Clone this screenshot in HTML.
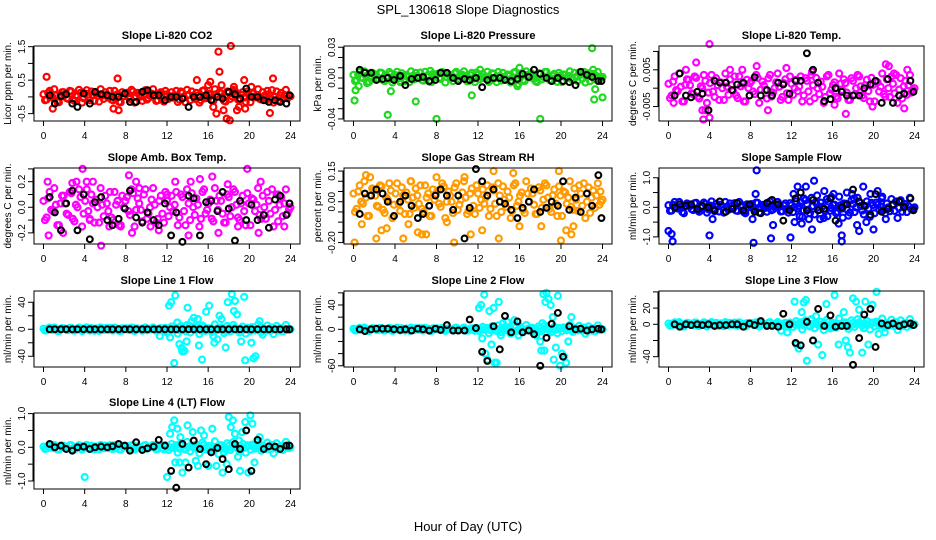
<!DOCTYPE html>
<html><head><meta charset="utf-8"><style>
html,body{margin:0;padding:0;background:#fff;}
svg{display:block;font-family:"Liberation Sans",sans-serif;}
</style></head><body>
<svg id="fig" width="936" height="540" viewBox="0 0 936 540" xmlns="http://www.w3.org/2000/svg">
<rect width="936" height="540" fill="#fff"/>
<text x="468" y="14" text-anchor="middle" font-size="13">SPL_130618  Slope Diagnostics</text>
<text x="468" y="531" text-anchor="middle" font-size="13">Hour of Day (UTC)</text>
</svg>
<script>
const coreHours=[0,0.3,0.6,0.9,1.2,1.5,1.8,2.1,2.4,2.7,3.0,3.3,3.6,3.9,4.2,4.5,4.8,5.1,5.4,5.7,6.0,6.3,6.6,6.9,7.2,7.5,7.8,8.1,8.4,8.7,9.0,9.3,9.6,9.9,10.2,10.5,10.8,11.1,11.4,11.7,12.0,12.3,12.6,12.9,13.2,13.5,13.8,14.1,14.4,14.7,15.0,15.3,15.6,15.9,16.2,16.5,16.8,17.1,17.4,17.7,18.0,18.3,18.6,18.9,19.2,19.5,19.8,20.1,20.4,20.7,21.0,21.3,21.6,21.9,22.2,22.5,22.8,23.1,23.4,23.7,24.0];
const coreHours2=[0.15,0.45,0.75,1.05,1.35,1.65,1.95,2.25,2.55,2.85,3.15,3.45,3.75,4.05,4.35,4.65,4.95,5.25,5.55,5.85,6.15,6.45,6.75,7.05,7.35,7.65,7.95,8.25,8.55,8.85,9.15,9.45,9.75,10.05,10.35,10.65,10.95,11.25,11.55,11.85,12.15,12.45,12.75,13.05,13.35,13.65,13.95,14.25,14.55,14.85,15.15,15.45,15.75,16.05,16.35,16.65,16.95,17.25,17.55,17.85,18.15,18.45,18.75,19.05,19.35,19.65,19.95,20.25,20.55,20.85,21.15,21.45,21.75,22.05,22.35,22.65,22.95,23.25,23.55,23.85];
const blackHours=[0.6,1.1,1.7,2.2,2.8,3.3,3.9,4.5,5.0,5.6,6.2,6.7,7.3,7.9,8.4,9.0,9.6,10.1,10.7,11.2,11.8,12.4,12.9,13.5,14.1,14.6,15.2,15.8,16.3,16.9,17.4,18.0,18.6,19.1,19.7,20.2,20.8,21.4,21.9,22.5,23.0,23.6,23.9];
const xTicks=[0,4,8,12,16,20,24];

const co2Core=[0.08,-0.08,0.18,-0.02,0.04,-0.16,0.14,0.06,-0.06,0.16,-0.12,0.02,0.12,-0.04,0.2,-0.1,0.06,0.1,-0.14,0.04,0.14,-0.02,-0.08,0.18,0.08,-0.16,0.02,0.12,-0.06,0.16,0,0.06,-0.12,0.2,-0.04,0.1,0.04,-0.1,0.14,-0.14,0.08,0.02,-0.02,0.18,-0.08,0.12,-0.16,0.06,0.16,-0.06,0.04,-0.1,0.2,0,0.1,-0.12,0.08,0.14,-0.04,-0.14,0.12,0.02,0.18,-0.08,0.06,-0.02,0.16,-0.16,0.1,0.04,-0.06,0.14,-0.1,0.08,0.2,0,-0.12,0.12,0.06,-0.04,0.02];
const co2Core2=[-0.10,0.12,0.01,0.23,-0.15,0.07,0.14,-0.04,0.18,-0.08,0.05,0.21,-0.17,0.10,-0.01,0.16,-0.12,0.03,0.23,-0.06,0.07,0.18,-0.10,0.05,-0.15,0.14,0.10,-0.01,0.21,-0.17,0.12,0.01,0.16,-0.08,0.03,0.23,-0.12,0.10,-0.04,0.18,-0.06,0.14,0.05,-0.15,0.16,-0.01,0.21,-0.10,0.03,0.12,-0.17,0.18,-0.04,0.07,-0.08,0.23,0.01,0.10,-0.12,0.16,-0.06,0.21,0.05,-0.10,0.14,-0.15,0.07,0.12,-0.01,0.23,-0.08,0.03,0.18,-0.04,-0.17,0.16,0.05,-0.06,0.21,0.01];
const co2Outliers=[[0.3,0.6],[0.9,-0.35],[7.2,0.55],[7.3,-0.4],[6.8,-0.35],[16.8,-0.5],[17,1.35],[17.1,0.75],[18.2,1.52],[17.8,-0.65],[18.1,-0.7],[22,-0.48],[22.3,0.55],[14.9,0.5],[19.5,0.5],[16.2,0.45],[16.5,-0.3],[17.3,0.35],[17.5,-0.4],[18.5,0.3],[19.0,-0.3],[19.6,-0.35],[20.2,0.3],[16.0,0.35],[18.8,-0.4]];
const co2Black=[0.05,-0.2,0.02,0.08,-0.2,-0.3,0.1,-0.2,0.15,0.08,0.05,0,0,0.1,-0.15,-0.15,0.15,0.2,0.05,0.05,-0.1,0,0,-0.05,-0.3,0,0,0.05,-0.1,0,-0.05,0.15,0.08,-0.05,0.25,0,0,-0.1,-0.15,-0.1,-0.15,-0.2,0.05];

const presCore=[0.003,-0.002,0.006,0,0.002,-0.004,0.005,0.002,-0.001,0.005,-0.003,0.001,0.004,-0.001,0.006,-0.003,0.002,0.003,-0.004,0.002,0.005,0,-0.002,0.006,0.003,-0.004,0.001,0.004,-0.001,0.005,0.001,0.002,-0.003,0.006,-0.001,0.003,0.002,-0.003,0.005,-0.004,0.003,0.001,0,0.006,-0.002,0.004,-0.004,0.002,0.005,-0.001,0.002,-0.003,0.006,0,0.003,-0.003,0.003,0.005,-0.001,-0.004,0.004,0.001,0.006,-0.002,0.002,0,0.005,-0.004,0.003,0.002,-0.001,0.005,-0.003,0.003,0.006,0.001,-0.003,0.004,0.002,-0.001,0.001];
const presCore2=[-0.003,0.003,0.0004,0.0064,-0.0038,0.0022,0.004,-0.0008,0.0052,-0.002,0.0016,0.0058,-0.0044,0.0028,-0.0002,0.0046,-0.0032,0.001,0.0064,-0.0014,0.0022,0.0052,-0.0026,0.0016,-0.0038,0.004,0.0028,-0.0002,0.0058,-0.0044,0.0034,0.0004,0.0046,-0.002,0.001,0.0064,-0.0032,0.0028,-0.0008,0.0052,-0.0014,0.004,0.0016,-0.0038,0.0046,-0.0002,0.0058,-0.0026,0.001,0.0034,-0.0044,0.0052,-0.0008,0.0022,-0.002,0.0064,0.0004,0.0028,-0.0032,0.0046,-0.0014,0.0058,0.0016,-0.0026,0.004,-0.0038,0.0022,0.0034,-0.0002,0.0064,-0.002,0.001,0.0052,-0.0008,-0.0044,0.0046,0.0016,-0.0014,0.0058,0.0004];
const presOutliers=[[0.1,-0.022],[0.2,-0.012],[0.5,-0.008],[1.3,-0.005],[3.3,-0.036],[3.6,-0.013],[4.5,-0.004],[6.0,-0.023],[8.0,-0.04],[11.4,-0.017],[12.2,0.008],[15.8,-0.008],[16,0.01],[18,-0.04],[23,0.029],[23.2,-0.021],[23.3,-0.011],[24,-0.019],[23.1,0.008],[7.4,0.007],[15.9,-0.006]];
const presBlack=[0.008,0.005,0.005,-0.002,-0.001,0,-0.002,0.002,-0.007,-0.001,0,0.001,-0.003,-0.002,0.005,0.005,0,-0.003,-0.001,-0.002,0,-0.009,-0.002,0,0,-0.002,-0.003,-0.001,0.004,0.001,0.008,0.004,0,-0.003,0,-0.003,-0.004,-0.007,0.006,0.003,0.001,-0.003,-0.003];

const liTempCore=[0.0012,-0.002,0.0032,-0.0008,0.0004,-0.0036,0.0024,0.0008,-0.0016,0.0028,-0.0028,0,0.002,-0.0012,0.0036,-0.0024,0.0008,0.0016,-0.0032,0.0004,0.0024,-0.0008,-0.002,0.0032,0.0012,-0.0036,0,0.002,-0.0016,0.0028,-0.0004,0.0008,-0.0028,0.0036,-0.0012,0.0016,0.0004,-0.0024,0.0024,-0.0032,0.0012,0,-0.0008,0.0032,-0.002,0.002,-0.0036,0.0008,0.0028,-0.0016,0.0004,-0.0024,0.0036,-0.0004,0.0016,-0.0028,0.0012,0.0024,-0.0012,-0.0032,0.002,0,0.0032,-0.002,0.0008,-0.0008,0.0028,-0.0036,0.0016,0.0004,-0.0016,0.0024,-0.0024,0.0012,0.0036,-0.0004,-0.0028,0.002,0.0008,-0.0012,0];
const liTempCore2=[-0.0027,0.0018,-0.0005,0.004,-0.0036,0.0009,0.0023,-0.0014,0.0032,-0.0023,0.0005,0.0036,-0.004,0.0014,-0.0009,0.0027,-0.0032,0,0.004,-0.0018,0.0009,0.0032,-0.0027,0.0005,-0.0036,0.0023,0.0014,-0.0009,0.0036,-0.004,0.0018,-0.0005,0.0027,-0.0023,0,0.004,-0.0032,0.0014,-0.0014,0.0032,-0.0018,0.0023,0.0005,-0.0036,0.0027,-0.0009,0.0036,-0.0027,0,0.0018,-0.004,0.0032,-0.0014,0.0009,-0.0023,0.004,-0.0005,0.0014,-0.0032,0.0027,-0.0018,0.0036,0.0005,-0.0027,0.0023,-0.0036,0.0009,0.0018,-0.0009,0.004,-0.0023,0,0.0032,-0.0014,-0.004,0.0027,0.0005,-0.0018,0.0036,-0.0005];
const liTempOutliers=[[0.5,-0.004],[1.7,0.005],[2.7,0.007],[3.3,-0.006],[3.4,-0.0085],[3.6,-0.006],[4.0,0.012],[4.0,-0.008],[6.0,0.005],[7.2,0.005],[8.6,0.006],[9.7,-0.006],[11.5,0.0055],[17.3,-0.007],[14,0.0045],[19.9,-0.005],[21.2,0.0065],[21.5,0.006],[23.0,-0.0055],[23.3,0.005],[22.0,0.004],[16.2,-0.0045]];
const liTempBlack=[-0.002,0.004,-0.002,-0.0025,-0.001,-0.0015,-0.006,0.002,0.0015,0.0015,-0.0005,0.001,0.0015,-0.002,0.003,-0.002,-0.0005,-0.002,0.0015,0.001,-0.0015,0.002,0.002,0.0095,0.005,0.0015,-0.0035,-0.003,0,-0.001,-0.002,-0.002,-0.002,0,0.001,0.002,-0.004,0.0025,-0.004,-0.002,-0.0015,0.002,-0.001];

const ambCore=[0.05,-0.08,0.12,-0.03,0.02,-0.14,0.09,0.03,-0.06,0.11,-0.11,0,0.08,-0.05,0.14,-0.09,0.03,0.06,-0.12,0.02,0.09,-0.03,-0.08,0.12,0.05,-0.14,0,0.08,-0.06,0.11,-0.02,0.03,-0.11,0.14,-0.05,0.06,0.02,-0.09,0.09,-0.12,0.05,0,-0.03,0.12,-0.08,0.08,-0.14,0.03,0.11,-0.06,0.02,-0.09,0.14,-0.02,0.06,-0.11,0.05,0.09,-0.05,-0.12,0.08,0,0.12,-0.08,0.03,-0.03,0.11,-0.14,0.06,0.02,-0.06,0.09,-0.09,0.05,0.14,-0.02,-0.11,0.08,0.03,-0.05,0];
const ambCore2=[-0.1,0.07,-0.02,0.15,-0.14,0.03,0.09,-0.05,0.12,-0.09,0.02,0.14,-0.15,0.05,-0.03,0.1,-0.12,0,0.15,-0.07,0.03,0.12,-0.1,0.02,-0.14,0.09,0.05,-0.03,0.14,-0.15,0.07,-0.02,0.1,-0.09,0,0.15,-0.12,0.05,-0.05,0.12,-0.07,0.09,0.02,-0.14,0.1,-0.03,0.14,-0.1,0,0.07,-0.15,0.12,-0.05,0.03,-0.09,0.15,-0.02,0.05,-0.12,0.1,-0.07,0.14,0.02,-0.1,0.09,-0.14,0.03,0.07,-0.03,0.15,-0.09,0,0.12,-0.05,-0.15,0.1,0.02,-0.07,0.14,-0.02];
const ambOutliers=[[0.4,0.2],[1.9,-0.2],[2.8,0.19],[3.2,0.2],[3.8,0.3],[4.2,0.2],[4.5,-0.1],[4.8,0.2],[5.6,-0.3],[6.4,-0.15],[8.3,0.25],[8.6,-0.2],[9.0,0.2],[9.3,0.15],[10.4,-0.15],[12.8,0.2],[14.1,-0.22],[14.3,0.2],[15.2,0.22],[16.4,0.24],[17.9,0.18],[19.8,0.3],[21.1,0.2],[22.8,0.1],[23.4,-0.15],[0.5,-0.22],[7.5,-0.15],[11.2,-0.18],[17.0,-0.2],[20.9,-0.2],[12.0,0.1],[18.9,-0.15]];
const ambBlack=[0.08,-0.04,-0.18,0.03,0.13,-0.18,0.1,-0.25,0.04,0.08,-0.1,-0.14,-0.09,-0.01,0.13,-0.08,-0.12,-0.04,-0.1,-0.14,0.03,-0.22,-0.04,-0.27,0.09,0.07,-0.22,0.04,0.05,-0.03,0.12,-0.01,-0.26,0.05,-0.1,0.02,-0.1,-0.06,-0.16,0.06,0.09,-0.06,0.03];

const rhCore=[0.04,-0.035,0.08,-0.01,0.02,-0.07,0.065,0.03,-0.025,0.075,-0.055,0.01,0.055,-0.015,0.09,-0.045,0.03,0.045,-0.06,0.02,0.065,-0.01,-0.035,0.08,0.04,-0.07,0.01,0.055,-0.025,0.075,0,0.03,-0.055,0.09,-0.015,0.045,0.02,-0.045,0.065,-0.06,0.04,0.01,-0.01,0.08,-0.035,0.055,-0.07,0.03,0.075,-0.025,0.02,-0.045,0.09,0,0.045,-0.055,0.04,0.065,-0.015,-0.06,0.055,0.01,0.08,-0.035,0.03,-0.01,0.075,-0.07,0.045,0.02,-0.025,0.065,-0.045,0.04,0.09,0,-0.055,0.055,0.03,-0.015,0.01];
const rhCore2=[-0.05,0.05,0,0.1,-0.07,0.03,0.06,-0.02,0.08,-0.04,0.02,0.09,-0.08,0.04,-0.01,0.07,-0.06,0.01,0.1,-0.03,0.03,0.08,-0.05,0.02,-0.07,0.06,0.04,-0.01,0.09,-0.08,0.05,0,0.07,-0.04,0.01,0.1,-0.06,0.04,-0.02,0.08,-0.03,0.06,0.02,-0.07,0.07,-0.01,0.09,-0.05,0.01,0.05,-0.08,0.08,-0.02,0.03,-0.04,0.1,0,0.04,-0.06,0.07,-0.03,0.09,0.02,-0.05,0.06,-0.07,0.03,0.05,-0.01,0.1,-0.04,0.01,0.08,-0.02,-0.08,0.07,0.02,-0.03,0.09,0];
const rhOutliers=[[0.1,-0.2],[0.8,-0.11],[1.2,0.13],[1.6,0.12],[2.2,-0.18],[2.7,-0.14],[3.2,-0.13],[4.8,-0.18],[5.3,-0.11],[6.2,-0.15],[6.6,-0.16],[7.0,-0.16],[8.0,0.12],[9.7,-0.2],[9.0,-0.1],[10.7,0.12],[11.3,-0.16],[12.4,-0.14],[13.5,0.15],[14.0,-0.18],[15.4,0.14],[16.0,-0.12],[18.1,-0.12],[19.8,0.15],[20.0,-0.19],[20.5,-0.14],[21.0,-0.16],[21.2,-0.12],[23.8,0.05],[5.5,0.1]];
const rhBlack=[-0.06,0.04,0.03,0.06,0.04,0.0,-0.07,0.0,0.03,-0.02,-0.08,-0.06,-0.02,0.03,0.06,0.03,-0.04,0.03,-0.18,-0.03,0.16,0.1,0.03,0.06,0.0,-0.01,-0.04,-0.08,-0.03,0.0,0.06,-0.05,-0.03,0.0,-0.02,0.1,-0.04,0.02,-0.05,0.04,-0.02,0.13,-0.08];

const sampCore=[0.07,-0.11,0.18,-0.04,0.02,-0.2,0.13,0.04,-0.09,0.15,-0.15,0,0.11,-0.07,0.2,-0.13,0.04,0.09,-0.18,0.02,0.13,-0.04,-0.11,0.18,0.07,-0.2,0,0.11,-0.09,0.15,-0.02,0.04,-0.15,0.2,-0.07,0.09,0.02,-0.13,0.13,-0.18,0.07,0,-0.04,0.18,-0.11,0.11,-0.2,0.04,0.15,-0.09,0.02,-0.13,0.2,-0.02,0.09,-0.15,0.07,0.13,-0.07,-0.18,0.11,0,0.18,-0.11,0.04,-0.04,0.15,-0.2,0.09,0.02,-0.09,0.13,-0.13,0.07,0.2,-0.02,-0.15,0.11,0.04,-0.07,0];
const sampCore2=[-0.12,0.08,-0.02,0.18,-0.16,0.04,0.1,-0.06,0.14,-0.1,0.02,0.16,-0.18,0.06,-0.04,0.12,-0.14,0,0.18,-0.08,0.04,0.14,-0.12,0.02,-0.16,0.1,0.06,-0.04,0.16,-0.18,0.08,-0.02,0.12,-0.1,0,0.18,-0.14,0.06,-0.06,0.14,-0.16,0.2,0.04,-0.32,0.24,-0.08,0.32,-0.24,0,0.16,-0.36,0.28,-0.12,0.08,-0.2,0.36,-0.04,0.12,-0.28,0.24,-0.16,0.32,0.04,-0.24,0.2,-0.32,0.08,0.16,-0.08,0.36,-0.2,0,0.28,-0.12,-0.36,0.24,0.04,-0.16,0.32,-0.04];
const sampOutliers=[[0.0,-0.8],[0.3,-0.9],[0.4,-1.15],[4.0,-0.95],[4.3,-0.4],[8.2,-0.4],[8.3,-1.2],[8.6,1.25],[8.5,0.45],[10.2,-0.6],[10.0,-1.05],[11.9,-1.02],[12.2,0.45],[12.3,-0.5],[12.6,0.7],[13.0,-0.55],[13.4,0.7],[13.7,-0.4],[14.2,0.9],[14.0,-0.75],[14.5,0.4],[15.2,0.55],[15.5,-0.3],[16.1,0.45],[16.6,-0.55],[16.9,-0.95],[16.9,-1.15],[17.4,0.5],[17.9,0.45],[18.4,-0.6],[18.6,-0.8],[19.0,0.7],[19.3,-0.5],[19.7,0.45],[20.0,-0.75],[20.4,0.55],[21.2,-0.4],[13.2,0.3],[15.9,0.35],[18.1,0.3],[12.8,-0.3],[17.0,-0.35],[20.8,0.3],[14.8,-0.4]];
const sampBlack=[0.0,0.1,0.05,0.1,-0.05,0.05,0.0,-0.1,0.2,-0.15,-0.05,0.15,-0.1,0.1,-0.15,-0.2,0.15,0.25,0.1,-0.45,-0.1,0.3,0.5,-0.1,0.25,-0.1,-0.05,0.3,-0.45,0.0,0.1,0.6,0.2,0.05,-0.25,0.45,-0.15,-0.05,0.1,0.2,0.0,0.3,-0.1];

const line1Core=[0.9,-1.5,2.4,-0.6,0.3,-2.7,1.8,0.6,-1.2,2.1,-2.1,0,1.5,-0.9,2.7,-1.8,0.6,1.2,-2.4,0.3,1.8,-0.6,-1.5,2.4,0.9,-2.7,0,1.5,-1.2,2.1,-0.3,0.6,-2.1,2.7,-0.9,1.2,0.3,-1.8,1.8,-2.4,0.9,0,-0.6,2.4,-1.5,1.5,-2.7,0.6,2.1,-1.2,0.3,-1.8,2.7,-0.3,1.2,-2.1,0.9,1.8,-0.9,-2.4,1.5,0,2.4,-1.5,0.6,-0.6,2.1,-2.7,1.2,0.3,-1.2,1.8,-1.8,0.9,2.7,-0.3,-2.1,1.5,0.6,-0.9,0];
const line1Core2=[-1.8,1.2,-0.3,2.7,-2.4,0.6,1.5,-0.9,2.1,-1.5,0.3,2.4,-2.7,0.9,-0.6,1.8,-2.1,0,2.7,-1.2,0.6,2.1,-1.8,0.3,-2.4,1.5,0.9,-0.6,2.4,-2.7,1.2,-0.3,1.8,-1.5,0,2.7,-2.1,0.9,-0.9,2.1,-3.2,4,0.8,-6.4,4.8,-1.6,6.4,-4.8,0,3.2,-7.2,5.6,-2.4,1.6,-4,7.2,-0.8,2.4,-5.6,4.8,-3.2,6.4,0.8,-4.8,4,-6.4,1.6,3.2,-1.6,7.2,-4,0,5.6,-2.4,-7.2,4.8,0.8,-3.2,6.4,-0.8];
const line1Outliers=[[12.2,35],[12.4,40],[12.8,50],[12.7,-50],[12.3,-12],[13.0,10],[13.2,-22],[13.4,-28],[13.5,-33],[13.7,-32],[13.9,-18],[14.0,32],[14.4,12],[14.6,17],[15.0,15],[15.1,-24],[15.4,-45],[15.8,26],[16.1,35],[16.5,-10],[16.6,-20],[17.1,20],[17.3,15],[17.7,-27],[17.9,40],[18.3,52],[18.5,27],[18.6,42],[18.8,22],[19.2,-18],[19.5,48],[19.6,-46],[19.9,0],[20.2,-20],[20.4,-43],[20.6,-40],[21.0,12],[21.3,-8],[16.9,-15],[14.2,5],[11.3,-10],[12.0,-5]];
const line1Black=[0,0,0,0,0,0,0,0,0,0,0,0,0,0,0,0,0,0,0,0,0,0,0,0,0,0,0,0,0,0,0,0,0,0,0,0,0,0,0,0,0,0,0];

const line2Core=[0.9,-1.5,2.4,-0.6,0.3,-2.7,1.8,0.6,-1.2,2.1,-2.1,0,1.5,-0.9,2.7,-1.8,0.6,1.2,-2.4,0.3,1.8,-0.6,-1.5,2.4,0.9,-2.7,0,1.5,-1.2,2.1,-0.3,0.6,-2.1,2.7,-0.9,1.2,0.3,-1.8,1.8,-2.4,0.9,0,-0.6,2.4,-1.5,1.5,-2.7,0.6,2.1,-1.2,0.3,-1.8,2.7,-0.3,1.2,-2.1,0.9,1.8,-0.9,-2.4,1.5,0,2.4,-1.5,0.6,-0.6,2.1,-2.7,1.2,0.3,-1.2,1.8,-1.8,0.9,2.7,-0.3,-2.1,1.5,0.6,-0.9,0];
const line2Core2=[-1.8,1.2,-0.3,2.7,-2.4,0.6,1.5,-0.9,2.1,-1.5,0.3,2.4,-2.7,0.9,-0.6,1.8,-2.1,0,2.7,-1.2,0.6,2.1,-1.8,0.3,-2.4,1.5,0.9,-0.6,2.4,-2.7,1.2,-0.3,1.8,-1.5,0,2.7,-2.1,0.9,-0.9,2.1,-3.2,4,0.8,-6.4,4.8,-1.6,6.4,-4.8,0,3.2,-7.2,5.6,-2.4,1.6,-4,7.2,-0.8,2.4,-5.6,4.8,-3.2,6.4,0.8,-4.8,4,-6.4,1.6,3.2,-1.6,7.2,-4,0,5.6,-2.4,-7.2,4.8,0.8,-3.2,6.4,-0.8];
const line2Outliers=[[12.1,35],[12.3,40],[12.6,57],[12.4,-15],[12.7,-40],[12.9,-50],[13.1,30],[13.3,-25],[13.5,35],[13.6,-55],[13.8,-55],[14.0,45],[14.2,-10],[14.4,10],[14.8,12],[15.1,-5],[15.9,-10],[18.0,-20],[18.1,-35],[18.2,10],[18.3,58],[18.5,45],[18.6,60],[18.8,50],[19.0,40],[19.3,-50],[19.5,-30],[19.7,55],[19.9,-60],[20.1,-40],[20.3,-45],[20.5,-55],[20.7,-20],[21.0,20],[18.4,-35],[17.6,-10],[16.0,5],[15.5,15],[19.2,20]];
const line2Black=[0,-3,0,1,1,1,0,-1,0,-2,1,0,-2,1,-1,7,-2,-2,-2,16,2,-37,-52,5,-33,22,-5,13,-5,-2,-8,-60,-14,9,27,-45,5,0,1,-2,0,1,0];

const line3Core=[0.9,-1.5,2.4,-0.6,0.3,-2.7,1.8,0.6,-1.2,2.1,-2.1,0,1.5,-0.9,2.7,-1.8,0.6,1.2,-2.4,0.3,1.8,-0.6,-1.5,2.4,0.9,-2.7,0,1.5,-1.2,2.1,-0.3,0.6,-2.1,2.7,-0.9,1.2,0.3,-1.8,1.8,-2.4,0.9,0,-0.6,2.4,-1.5,1.5,-2.7,0.6,2.1,-1.2,0.3,-1.8,2.7,-0.3,1.2,-2.1,0.9,1.8,-0.9,-2.4,1.5,0,2.4,-1.5,0.6,-0.6,2.1,-2.7,1.2,0.3,-1.2,1.8,-1.8,0.9,2.7,-0.3,-2.1,1.5,0.6,-0.9,0];
const line3Core2=[-1.8,1.2,-0.3,2.7,-2.4,0.6,1.5,-0.9,2.1,-1.5,0.3,2.4,-2.7,0.9,-0.6,1.8,-2.1,0,2.7,-1.2,0.6,2.1,-1.8,0.3,-2.4,1.5,0.9,-0.6,2.4,-2.7,1.2,-0.3,1.8,-1.5,0,2.7,-2.1,0.9,-0.9,2.1,-3.2,4,0.8,-6.4,4.8,-1.6,6.4,-4.8,0,3.2,-7.2,5.6,-2.4,1.6,-4,7.2,-0.8,2.4,-5.6,4.8,-3.2,6.4,0.8,-4.8,4,-6.4,1.6,3.2,-1.6,7.2,-4,0,5.6,-2.4,-7.2,4.8,0.8,-3.2,6.4,-0.8];
const line3Outliers=[[12.3,28],[12.5,-25],[12.7,-30],[13.0,15],[13.2,27],[13.4,30],[13.5,-45],[13.9,5],[14.1,-20],[14.6,-25],[15.0,-38],[15.4,25],[15.8,-5],[16.2,36],[16.6,-25],[17.1,15],[17.5,-28],[17.7,-35],[18.0,32],[18.3,28],[18.6,18],[18.9,-35],[19.2,28],[19.5,-25],[19.9,24],[20.3,40],[20.5,-12],[21.1,-10],[17.3,-20],[14.4,10],[11.0,-8],[11.6,-10]];
const line3Black=[0,-3,0,-1,0,-1,0,-2,-1,-1,0,0,-3,1,-1,4,-2,-2,-3,13,0,-23,-26,3,-20,19,-2,11,-3,-2,-2,-50,-17,12,19,-28,1,-1,1,-2,0,1,-1];

const line4Core=[0.02,-0.04,0.06,-0.02,0.01,-0.07,0.05,0.02,-0.03,0.06,-0.06,0,0.04,-0.02,0.07,-0.05,0.02,0.03,-0.06,0.01,0.05,-0.02,-0.04,0.06,0.02,-0.07,0,0.04,-0.03,0.06,-0.01,0.02,-0.06,0.07,-0.02,0.03,0.01,-0.05,0.05,-0.06,0.02,0,-0.02,0.06,-0.04,0.04,-0.07,0.02,0.06,-0.03,0.01,-0.05,0.07,-0.01,0.03,-0.06,0.02,0.05,-0.02,-0.06,0.04,0,0.06,-0.04,0.02,-0.02,0.06,-0.07,0.03,0.01,-0.03,0.05,-0.05,0.02,0.07,-0.01,-0.06,0.04,0.02,-0.02,0];
const line4Core2=[-0.05,0.03,-0.01,0.07,-0.06,0.02,0.04,-0.02,0.06,-0.04,0.01,0.06,-0.07,0.02,-0.02,0.05,-0.06,0,0.07,-0.03,0.02,0.06,-0.05,0.01,-0.06,0.04,0.02,-0.02,0.06,-0.07,0.03,-0.01,0.05,-0.04,0,0.07,-0.06,0.02,-0.02,0.06,-0.08,0.1,0.02,-0.16,0.12,-0.04,0.16,-0.12,0,0.08,-0.18,0.14,-0.06,0.04,-0.1,0.18,-0.02,0.06,-0.14,0.12,-0.08,0.16,0.02,-0.12,0.1,-0.16,0.04,0.08,-0.04,0.18,-0.1,0,0.14,-0.06,-0.18,0.12,0.02,-0.08,0.16,-0.02];
const line4Outliers=[[4.0,-0.88],[12.0,-0.88],[12.3,0.4],[12.5,0.6],[12.7,0.8],[12.8,-0.45],[13.0,0.55],[13.2,-0.45],[13.5,-0.75],[13.8,-0.45],[14.0,0.65],[14.5,0.45],[14.8,-0.4],[15.0,-0.55],[15.3,0.5],[15.6,0.35],[16.0,-0.55],[16.4,0.55],[16.8,-0.55],[17.4,-0.75],[17.8,-0.5],[18.0,0.9],[18.2,0.6],[18.4,0.8],[18.6,0.4],[18.9,-0.28],[19.1,-0.7],[19.3,0.45],[19.6,0.75],[19.9,-0.75],[20.1,0.95],[20.3,0.7],[20.5,-0.45],[21.0,0.3],[13.3,0.3],[17.0,-0.2],[19.0,0.2]];
const line4Black=[0.1,0,0.05,-0.05,-0.1,0,0.02,-0.05,0,0.02,0,0.03,0.1,0.05,-0.1,0.15,-0.08,-0.03,0.02,0.22,0.05,-0.7,-1.2,0.1,-0.6,0.2,-0.05,-0.5,-0.15,-0.02,-0.35,-0.65,0.1,-0.05,0.5,-0.7,0.22,-0.05,0.03,0.02,-0.05,0.05,0.05];

const co2Ticks=[-0.5,0,0.5,1,1.5], co2Labels=["-0.5","","0.5","","1.5"];
const presTicks=[-0.04,-0.03,-0.02,-0.01,0,0.01,0.02,0.03], presLabels=["-0.04","","","","0.00","","","0.03"];
const liTempTicks=[-0.005,0,0.005,0.01], liTempLabels=["-0.005","","0.005",""];
const ambTicks=[-0.2,-0.1,0,0.1,0.2,0.3], ambLabels=["-0.2","","0.0","","0.2",""];
const rhTicks=[-0.2,-0.15,-0.1,-0.05,0,0.05,0.1,0.15], rhLabels=["-0.20","","","","0.00","","","0.15"];
const sampTicks=[-1,-0.5,0,0.5,1], sampLabels=["-1.0","","0.0","","1.0"];
const line1Ticks=[-40,-20,0,20,40], line1Labels=["-40","","0","","40"];
const line2Ticks=[-60,-40,-20,0,20,40,60], line2Labels=["-60","","","0","","40",""];
const line3Ticks=[-40,-20,0,20,40], line3Labels=["-40","","0","20",""];
const line4Ticks=[-1,-0.5,0,0.5,1], line4Labels=["-1.0","","0.0","","1.0"];

const cols=[[34,300],[344,612],[659,924]];
const rows=[[46,121],[168,244],[291,367],[413,489]];
const panels=[
 {id:"co2",title:"Slope Li-820 CO2",ylab:"Licor ppm per min.",c:0,r:0,color:"#ff0000",lim:[1.52,-0.72],core:co2Core,core2:co2Core2,out:co2Outliers,black:co2Black,ticks:co2Ticks,labels:co2Labels},
 {id:"pressure",title:"Slope Li-820 Pressure",ylab:"kPa per min.",c:1,r:0,color:"#1fd81f",lim:[0.0312,-0.042],core:presCore,core2:presCore2,out:presOutliers,black:presBlack,ticks:presTicks,labels:presLabels},
 {id:"li820-temp",title:"Slope Li-820 Temp.",ylab:"degrees C per min.",c:2,r:0,color:"#ff00ff",lim:[0.01148,-0.00893],core:liTempCore,core2:liTempCore2,out:liTempOutliers,black:liTempBlack,ticks:liTempTicks,labels:liTempLabels},
 {id:"amb-box-temp",title:"Slope Amb. Box Temp.",ylab:"degrees C per min.",c:0,r:1,color:"#ff00ff",lim:[0.307,-0.287],core:ambCore,core2:ambCore2,out:ambOutliers,black:ambBlack,ticks:ambTicks,labels:ambLabels},
 {id:"gas-rh",title:"Slope Gas Stream RH",ylab:"percent per min.",c:1,r:1,color:"#ff9a00",lim:[0.165,-0.207],core:rhCore,core2:rhCore2,out:rhOutliers,black:rhBlack,ticks:rhTicks,labels:rhLabels},
 {id:"sample-flow",title:"Slope Sample Flow",ylab:"ml/min per min.",c:2,r:1,color:"#0000ff",lim:[1.33,-1.24],core:sampCore,core2:sampCore2,out:sampOutliers,black:sampBlack,ticks:sampTicks,labels:sampLabels},
 {id:"line1-flow",title:"Slope Line 1 Flow",ylab:"ml/min per min.",c:0,r:2,color:"#00ffff",lim:[56.7,-55.9],core:line1Core,core2:line1Core2,out:line1Outliers,black:line1Black,ticks:line1Ticks,labels:line1Labels},
 {id:"line2-flow",title:"Slope Line 2 Flow",ylab:"ml/min per min.",c:1,r:2,color:"#00ffff",lim:[63,-62],core:line2Core,core2:line2Core2,out:line2Outliers,black:line2Black,ticks:line2Ticks,labels:line2Labels},
 {id:"line3-flow",title:"Slope Line 3 Flow",ylab:"ml/min per min.",c:2,r:2,color:"#00ffff",lim:[41.1,-52.7],core:line3Core,core2:line3Core2,out:line3Outliers,black:line3Black,ticks:line3Ticks,labels:line3Labels},
 {id:"line4-flow",title:"Slope Line 4 (LT) Flow",ylab:"ml/min per min.",c:0,r:3,color:"#00ffff",lim:[1.018,-1.237],core:line4Core,core2:line4Core2,out:line4Outliers,black:line4Black,ticks:line4Ticks,labels:line4Labels}
];
const NS="http://www.w3.org/2000/svg";
const svg=document.getElementById("fig");
function mk(tag,attrs,parent){const e=document.createElementNS(NS,tag);for(const k in attrs)e.setAttribute(k,attrs[k]);(parent||svg).appendChild(e);return e;}
panels.forEach(p=>{
  const L=cols[p.c][0],R=cols[p.c][1],T=rows[p.r][0],B=rows[p.r][1];
  const g=mk("g",{});
  
  
  const xs=h=>L+9.5+(h/24)*(R-L-19);
  const ys=v=>T+(p.lim[0]-v)/(p.lim[0]-p.lim[1])*(B-T);
  const pts=mk("g",{},g);
  
  
  const n=Math.min(coreHours.length,p.core.length);
  for(let i=0;i<n;i++){
    const c=mk("circle",{cx:xs(coreHours[i]),cy:ys(p.core[i]),r:3,fill:"none",stroke:p.color,"stroke-width":2.2},pts);
    
    
  }
  const n2=Math.min(coreHours2.length,p.core2.length);
  for(let i=0;i<n2;i++){
    const c=mk("circle",{cx:xs(coreHours2[i]),cy:ys(p.core2[i]),r:3,fill:"none",stroke:p.color,"stroke-width":2.2},pts);
    
    
  }
  p.out.forEach(o=>{
    const c=mk("circle",{cx:xs(o[0]),cy:ys(o[1]),r:3,fill:"none",stroke:p.color,"stroke-width":2.2},pts);
    
    
  });
  const nb=Math.min(blackHours.length,p.black.length);
  for(let i=0;i<nb;i++){
    const c=mk("circle",{cx:xs(blackHours[i]),cy:ys(p.black[i]),r:2.9,fill:"none",stroke:"#000","stroke-width":2.1},pts);
    
    
  }
  const box=mk("rect",{x:L,y:T,width:R-L,height:B-T,fill:"none",stroke:"#000","stroke-width":1},g);
  
  
  const t=mk("text",{x:(L+R)/2,y:T-7,"text-anchor":"middle","font-size":"11","font-weight":"bold"},g);
  t.textContent=p.title;
  
  
  const yl=mk("text",{x:0,y:0,"text-anchor":"middle","font-size":"10",transform:`translate(${L-23},${(T+B)/2}) rotate(-90)`},g);
  yl.textContent=p.ylab;
  
  
  const xa=mk("g",{},g);
  
  
  mk("line",{x1:xs(0),x2:xs(24),y1:B,y2:B,stroke:"#000"},xa);
  xTicks.forEach(h=>{
    const tk=mk("line",{x1:xs(h),x2:xs(h),y1:B,y2:B+5,stroke:"#000"},xa);
    
    
    const lb=mk("text",{x:xs(h),y:B+18,"text-anchor":"middle","font-size":"10"},xa);
    lb.textContent=String(h);
    
    
  });
  const ya=mk("g",{},g);
  
  
  mk("line",{x1:L-1,x2:L-1,y1:ys(p.ticks[0]),y2:ys(p.ticks[p.ticks.length-1]),stroke:"#000"},ya);
  p.ticks.forEach((v,i)=>{
    const tk=mk("line",{x1:L-6,x2:L,y1:ys(v),y2:ys(v),stroke:"#000"},ya);
    
    
    if(p.labels[i]){
      const lb=mk("text",{x:0,y:0,"text-anchor":"middle","font-size":"10",transform:`translate(${L-9},${ys(v)}) rotate(-90)`},ya);
      lb.textContent=p.labels[i];
      
      
    }
  });
});
</script>
</body></html>
